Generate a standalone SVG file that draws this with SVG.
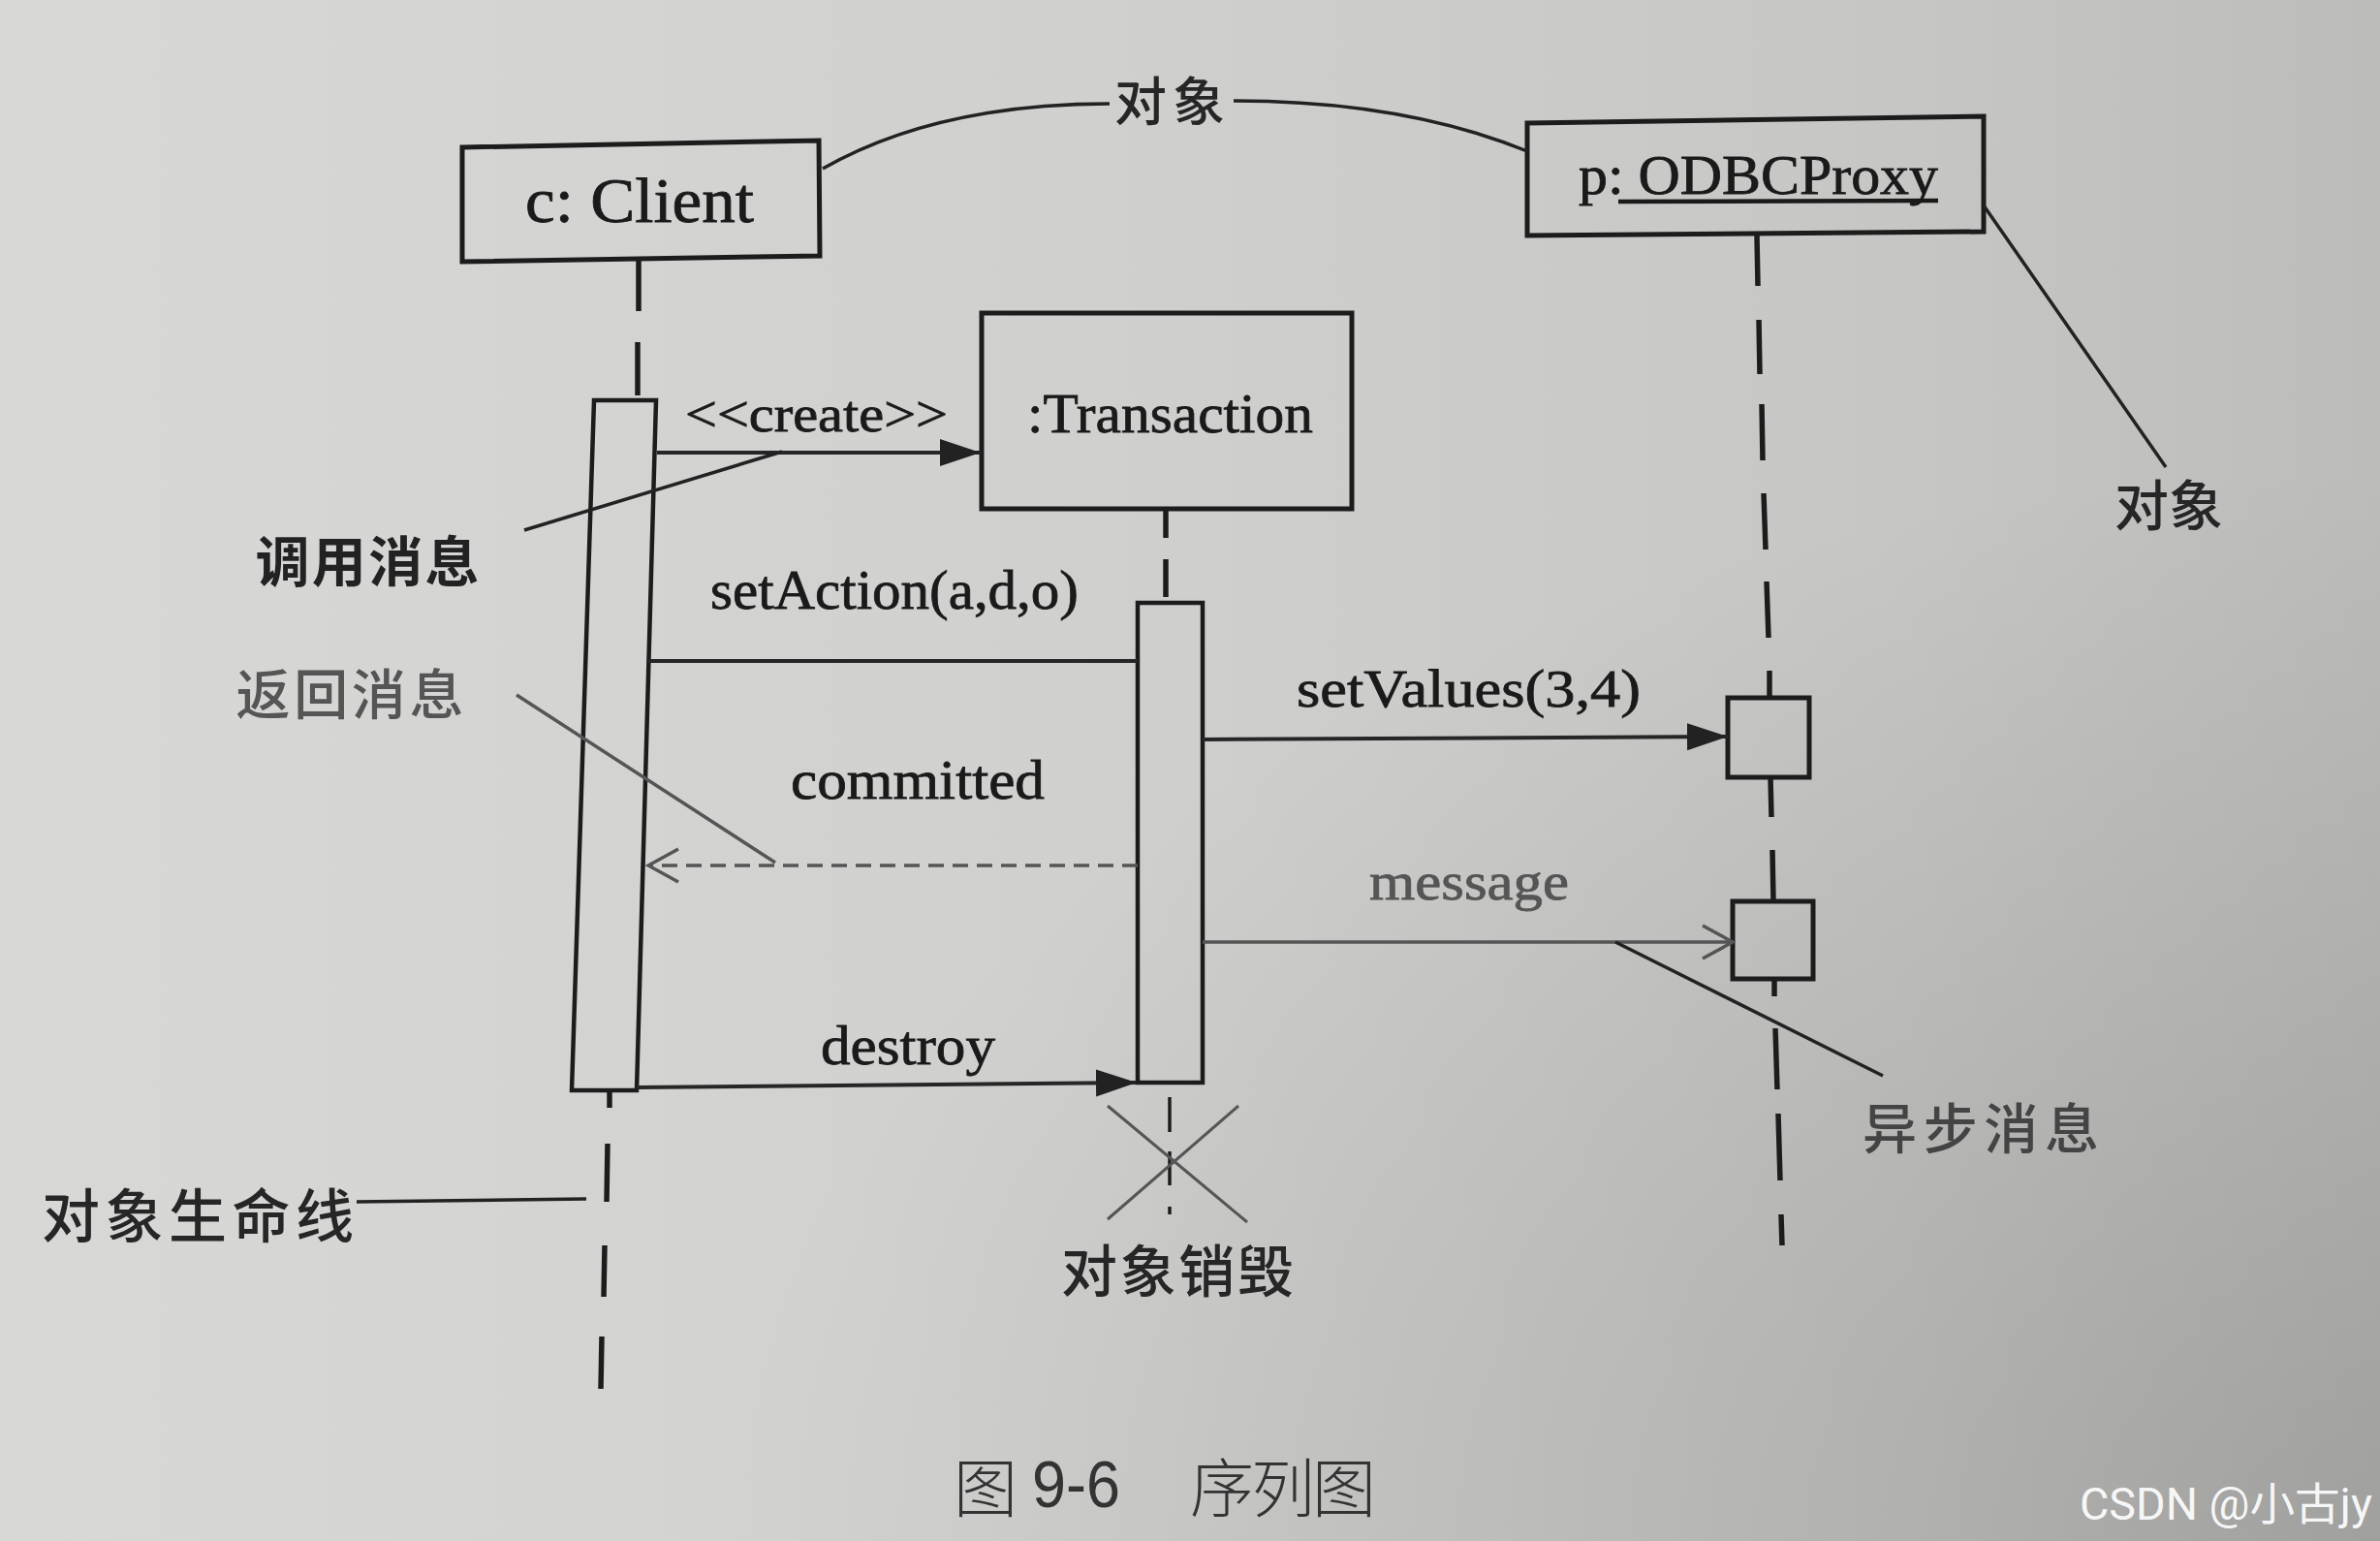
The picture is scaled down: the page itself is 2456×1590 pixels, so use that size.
<svg xmlns="http://www.w3.org/2000/svg" width="2456" height="1590" viewBox="0 0 2456 1590">
<defs>
<linearGradient id="paper" x1="0" y1="0" x2="1" y2="0">
<stop offset="0" stop-color="#d8d8d6"/>
<stop offset="0.45" stop-color="#d0d0ce"/>
<stop offset="0.8" stop-color="#c6c6c4"/>
<stop offset="1" stop-color="#bcbcba"/>
</linearGradient>
<radialGradient id="shade" cx="1" cy="1" r="0.7">
<stop offset="0" stop-color="#000" stop-opacity="0.15"/>
<stop offset="1" stop-color="#000" stop-opacity="0"/>
</radialGradient>
<marker id="filled" markerUnits="userSpaceOnUse" markerWidth="44" markerHeight="30" refX="42" refY="15" orient="auto">
<path d="M0,1 L42,15 L0,29 z" fill="#222"/>
</marker>
<marker id="open" markerUnits="userSpaceOnUse" markerWidth="36" markerHeight="38" refX="33" refY="19" orient="auto">
<path d="M2,2 L33,19 L2,36" fill="none" stroke="#555" stroke-width="3.5"/>
</marker>
</defs>
<style>
.box{fill:none;stroke:#1c1c1c;stroke-width:5}
.bar{fill:none;stroke:#1c1c1c;stroke-width:4.5}
.ll{stroke:#1c1c1c;stroke-width:5.5;fill:none}
.msg{stroke:#262626;stroke-width:4;fill:none}
.gmsg{stroke:#555;stroke-width:3.5;fill:none}
.note{stroke:#222;stroke-width:3.5;fill:none}
.lat{font-family:"Liberation Serif","Times New Roman",serif;fill:#1a1a1a;stroke:#1a1a1a;stroke-width:0.8}
.cjk{font-family:"Noto Sans CJK SC","Noto Sans",sans-serif;fill:#262626;text-anchor:middle;dominant-baseline:central;font-weight:500}
</style>
<rect x="0" y="0" width="2456" height="1590" fill="url(#paper)"/>
<rect x="0" y="0" width="2456" height="1590" fill="url(#shade)"/>

<g id="client">
<polygon class="box" points="477,152 845,145 846,264 477,270"/>
<text class="lat" x="542" y="229" font-size="66" textLength="236" lengthAdjust="spacingAndGlyphs">c: Client</text>
<line class="ll" x1="659" y1="268" x2="659" y2="321"/>
<line class="ll" x1="658" y1="353" x2="658" y2="408"/>
<polygon class="bar" points="613,413 677,413 657,1125 590,1125"/>
<line class="ll" x1="629" y1="1125" x2="629" y2="1143"/>
<line class="ll" x1="627" y1="1180" x2="626" y2="1240"/>
<line class="ll" x1="624" y1="1285" x2="623" y2="1338"/>
<line class="ll" x1="621" y1="1379" x2="620" y2="1433"/>
</g>

<g id="transaction">
<rect class="box" x="1013" y="323" width="382" height="202"/>
<text class="lat" x="1060" y="446" font-size="58" textLength="295" lengthAdjust="spacingAndGlyphs">:Transaction</text>
<line class="ll" x1="1203" y1="527" x2="1203" y2="555"/>
<line class="ll" x1="1203" y1="577" x2="1203" y2="616"/>
<rect class="bar" x="1174" y="622" width="67" height="495"/>
<line class="ll" x1="1207" y1="1132" x2="1207" y2="1168" style="stroke-width:3.5"/>
<line class="ll" x1="1207" y1="1188" x2="1207" y2="1223" style="stroke-width:3.5"/>
<line class="ll" x1="1207" y1="1245" x2="1207" y2="1253" style="stroke-width:3.5"/>
<line x1="1143" y1="1141" x2="1287" y2="1261" stroke="#555" stroke-width="3"/>
<line x1="1278" y1="1141" x2="1143" y2="1258" stroke="#555" stroke-width="3"/>
</g>

<g id="proxy">
<polygon class="box" points="1576,127 2047,120 2047,239 1576,243"/>
<text class="lat" x="1629" y="200" font-size="56" textLength="371" lengthAdjust="spacingAndGlyphs">p: ODBCProxy</text>
<line x1="1670" y1="208" x2="2000" y2="207" stroke="#1a1a1a" stroke-width="4.5"/>
<line class="ll" x1="1813" y1="243" x2="1814" y2="295"/>
<line class="ll" x1="1815" y1="330" x2="1816" y2="386"/>
<line class="ll" x1="1818" y1="417" x2="1819" y2="475"/>
<line class="ll" x1="1820" y1="509" x2="1822" y2="567"/>
<line class="ll" x1="1823" y1="600" x2="1825" y2="658"/>
<line class="ll" x1="1826" y1="692" x2="1826" y2="720"/>
<rect class="box" x="1783" y="720" width="84" height="82"/>
<line class="ll" x1="1827" y1="802" x2="1828" y2="843"/>
<line class="ll" x1="1829" y1="877" x2="1830" y2="930"/>
<rect class="box" x="1788" y="930" width="83" height="80"/>
<line class="ll" x1="1831" y1="1010" x2="1831" y2="1028"/>
<line class="ll" x1="1832" y1="1061" x2="1834" y2="1124"/>
<line class="ll" x1="1835" y1="1149" x2="1837" y2="1218"/>
<line class="ll" x1="1838" y1="1253" x2="1839" y2="1285"/>
</g>

<g id="connectors">
<line class="msg" x1="678" y1="467" x2="1012" y2="467" marker-end="url(#filled)"/>
<line class="msg" x1="669" y1="682" x2="1174" y2="682"/>
<line class="msg" x1="1241" y1="763" x2="1783" y2="760" marker-end="url(#filled)"/>
<line class="gmsg" x1="1174" y1="893" x2="669" y2="893" stroke-dasharray="16 9" marker-end="url(#open)"/>
<line class="gmsg" x1="1241" y1="972" x2="1788" y2="972" marker-end="url(#open)"/>
<line class="msg" x1="657" y1="1122" x2="1173" y2="1117" marker-end="url(#filled)"/>
<path class="note" d="M849,174 C940,122 1050,107 1145,107"/>
<path class="note" d="M1273,104 C1400,104 1500,125 1576,156"/>
<line class="note" x1="2047" y1="212" x2="2235" y2="482"/>
<line class="note" x1="807" y1="466" x2="541" y2="547"/>
<line class="note" x1="533" y1="717" x2="800" y2="890" style="stroke:#555"/>
<line class="note" x1="1667" y1="972" x2="1943" y2="1110"/>
<line class="note" x1="368" y1="1240" x2="605" y2="1237"/>
</g>

<g id="labels">
<text class="lat" x="707" y="445" font-size="52" textLength="271" lengthAdjust="spacingAndGlyphs">&lt;&lt;create&gt;&gt;</text>
<text class="lat" x="733" y="628" font-size="56" textLength="380" lengthAdjust="spacingAndGlyphs">setAction(a,d,o)</text>
<text class="lat" x="1338" y="729" font-size="54" textLength="355" lengthAdjust="spacingAndGlyphs">setValues(3,4)</text>
<text class="lat" x="816" y="824" font-size="56" textLength="262" lengthAdjust="spacingAndGlyphs">committed</text>
<text class="lat" x="1413" y="928" font-size="54" textLength="206" lengthAdjust="spacingAndGlyphs" style="fill:#555;stroke:#555">message</text>
<text class="lat" x="847" y="1098" font-size="56" textLength="180" lengthAdjust="spacingAndGlyphs">destroy</text>
<text class="cjk" x="1207" y="101" font-size="54" textLength="114">对象</text>
<text class="cjk" x="2238" y="517" font-size="56" textLength="112">对象</text>
<text class="cjk" x="379" y="575" font-size="56" textLength="231" style="fill:#222;font-weight:bold">调用消息</text>
<text class="cjk" x="361" y="712" font-size="56" textLength="235" style="fill:#555">返回消息</text>
<text class="cjk" x="2044" y="1160" font-size="56" textLength="244" style="fill:#444">异步消息</text>
<text class="cjk" x="204" y="1250" font-size="60" textLength="322">对象生命线</text>
<text class="cjk" x="1215" y="1308" font-size="58" textLength="240">对象销毁</text>
<text class="cjk" x="1017" y="1531" font-size="66" style="fill:#333;font-weight:300">图</text>
<text x="1065" y="1555" font-size="68" textLength="91" lengthAdjust="spacingAndGlyphs" style="font-family:'Liberation Sans',Arial,sans-serif;fill:#333">9-6</text>
<text class="cjk" x="1324" y="1531" font-size="66" textLength="192" style="fill:#333;font-weight:300">序列图</text>
<text x="2146" y="1568" font-size="46" textLength="302" lengthAdjust="spacingAndGlyphs" style="font-family:Roboto,'Noto Sans CJK SC',sans-serif;fill:#ffffff;fill-opacity:0.92">CSDN @小古jy</text>
</g>
</svg>
